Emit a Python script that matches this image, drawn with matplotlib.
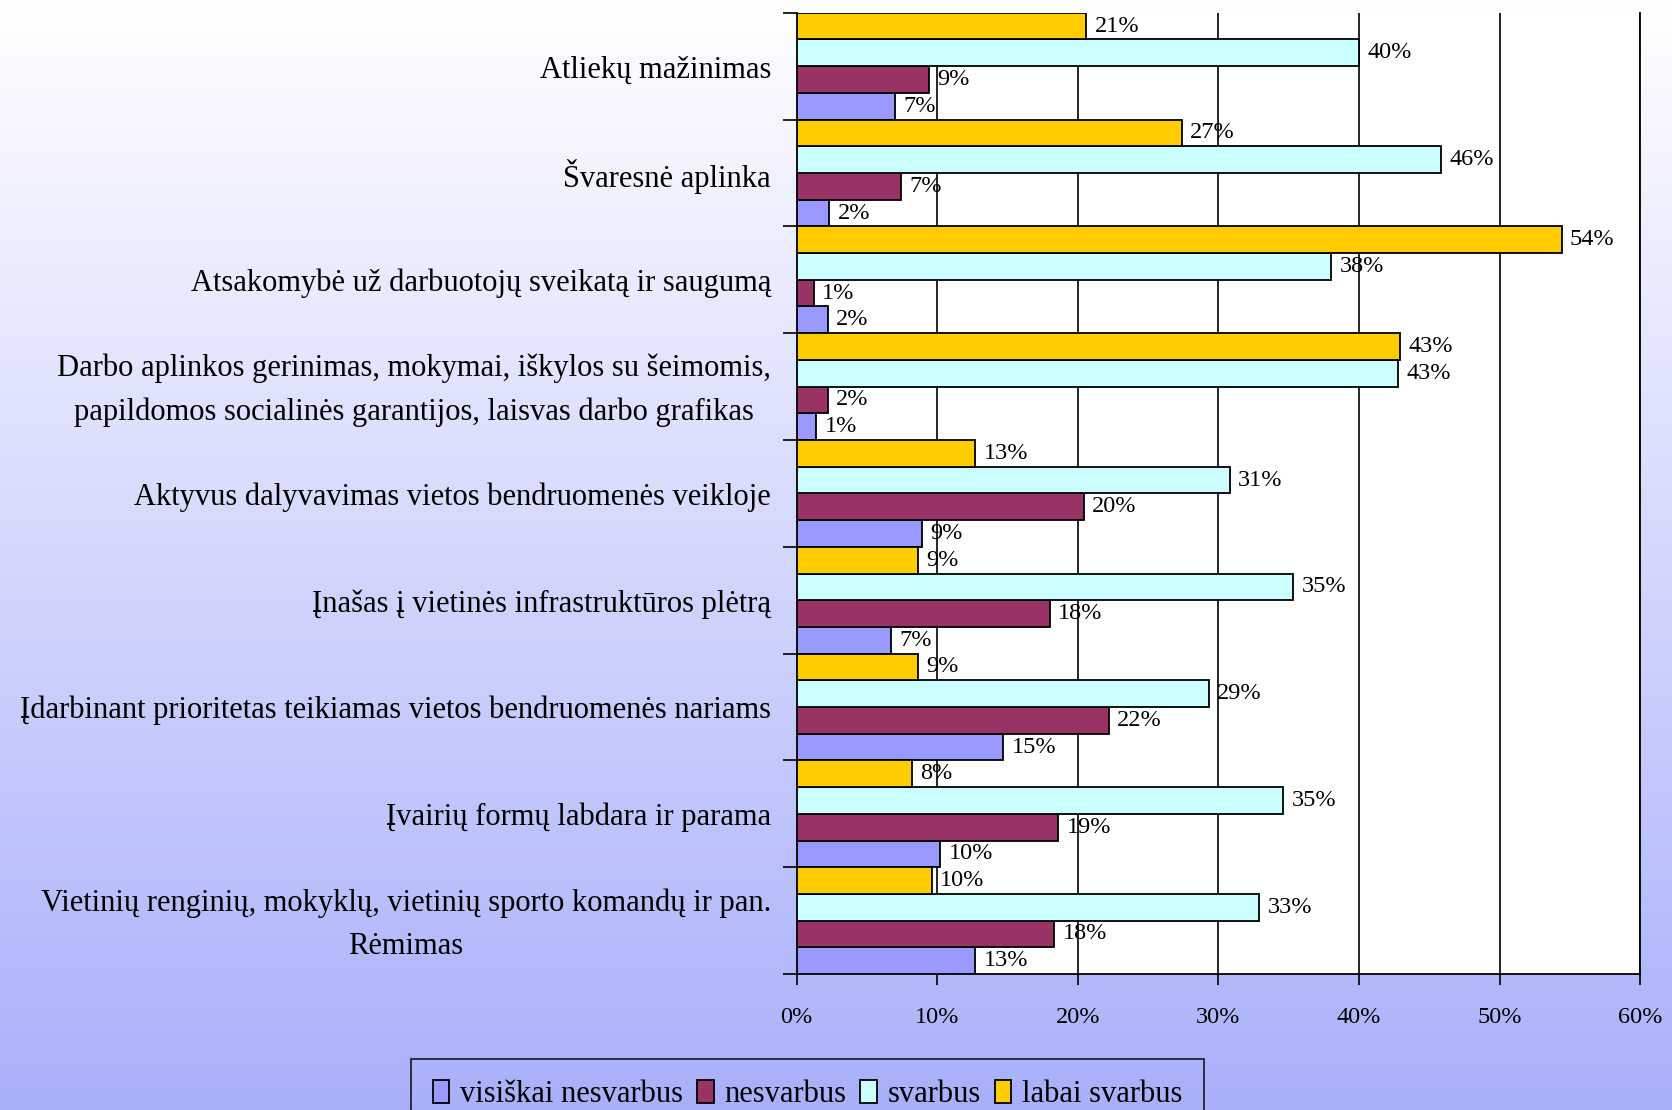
import numpy as np
import matplotlib
matplotlib.use("Agg")
import matplotlib.pyplot as plt

plt.rcParams['font.family'] = ['Liberation Serif', 'DejaVu Serif']

# kategorijos, is virsaus i apacia
categories = [
	"Atliekų mažinimas",
	"Švaresnė aplinka",
	"Atsakomybė už darbuotojų sveikatą ir saugumą",
	"Darbo aplinkos gerinimas, mokymai, iškylos su šeimomis,\npapildomos socialinės garantijos, laisvas darbo grafikas",
	"Aktyvus dalyvavimas vietos bendruomenės veikloje",
	"Įnašas į vietinės infrastruktūros plėtrą",
	"Įdarbinant prioritetas teikiamas vietos bendruomenės nariams",
	"Įvairių formų labdara ir parama",
	"Vietinių renginių, mokyklų, vietinių sporto komandų ir pan.\nRėmimas",
]

visiskai = [7.0, 2.3, 2.2, 1.4, 8.9, 6.7, 14.7, 10.2, 12.7]
nesvarbus = [9.4, 7.4, 1.2, 2.2, 20.4, 18.0, 22.2, 18.6, 18.3]
svarbus = [40.0, 45.8, 38.0, 42.8, 30.8, 35.3, 29.3, 34.6, 32.9]
labai = [20.6, 27.4, 54.4, 42.9, 12.7, 8.6, 8.6, 8.2, 9.6]

series_names = ["visiškai nesvarbus", "nesvarbus", "svarbus", "labai svarbus"]
colors = ["#9999FF", "#993366", "#CCFFFF", "#FFCC00"]
xticks = [0, 10, 20, 30, 40, 50, 60]

fig = plt.figure(figsize=(16.72, 11.10), dpi=100)

# fono gradientas
bg = fig.add_axes([0, 0, 1, 1], zorder=-10)
top_c = np.array([1.0, 1.0, 1.0])
bot_c = np.array([0.66, 0.69, 0.98])
t = np.linspace(0, 1, 256)[:, None]
grad = top_c[None, :] * (1 - t) + bot_c[None, :] * t
bg.imshow(grad[:, None, :], aspect='auto', extent=[0, 1, 0, 1])
bg.axis('off')

ax = fig.add_axes([0.4765, 0.1225, 0.5045, 0.8660])
ax.set_facecolor('white')

n = len(categories)
pos = np.arange(n)[::-1]
h = 0.25
data = [visiskai, nesvarbus, svarbus, labai]
offsets = [-0.375, -0.125, 0.125, 0.375]

handles = []
for vals, name, col, off in zip(data, series_names, colors, offsets):
	b = ax.barh(pos + off, vals, height=h, color=col, edgecolor='black',
				linewidth=1.3, label=name, zorder=3)
	handles.append(b)
	for y, v in zip(pos + off, vals):
		ax.text(v + 0.6, y, "%d%%" % round(v), va='center', ha='left',
				fontsize=17.5, zorder=4)

ax.set_xlim(0, 60)
ax.set_ylim(-0.5, n - 0.5)

ax.set_xticks(xticks)
ax.set_xticklabels(["%d%%" % x for x in xticks], fontsize=17.5)
ax.tick_params(axis='x', direction='out', length=8, width=1.2, pad=16)
for x in xticks[1:]:
	ax.axvline(x, color='black', linewidth=1.2, zorder=1)

ax.set_yticks(np.arange(n + 1) - 0.5)
ax.set_yticklabels([])
ax.tick_params(axis='y', which='major', direction='out', length=10, width=1.2)

# kategoriju pavadinimai
for y, lab in zip(pos, categories):
	ax.text(-0.0305, y - 0.035, lab, transform=ax.get_yaxis_transform(),
			ha='right', va='center', fontsize=22, linespacing=1.63,
			multialignment='center')

ax.spines['top'].set_visible(False)
for s in ['left', 'bottom', 'right']:
	ax.spines[s].set_linewidth(1.3)
	ax.spines[s].set_color('black')

leg = fig.legend(handles, series_names, loc='upper center', ncol=4,
				 bbox_to_anchor=(0.483, 0.046), borderaxespad=0, fontsize=22,
				 frameon=True, fancybox=False, edgecolor='black',
				 facecolor='none', handlelength=0.55, handleheight=0.75,
				 handletextpad=0.35, columnspacing=0.45, borderpad=0.7)
leg.get_frame().set_linewidth(1.3)

fig.savefig("out.png", dpi=100)
